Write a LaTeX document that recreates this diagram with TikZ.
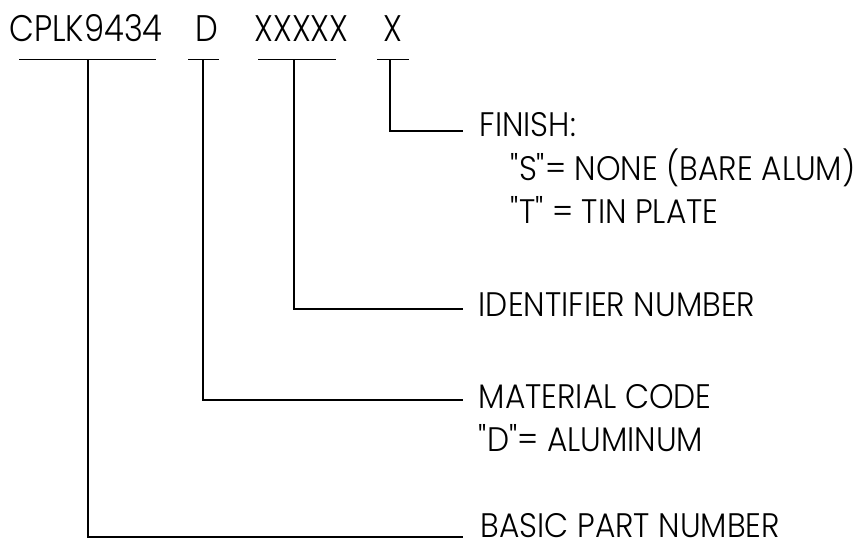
\documentclass[tikz,border=0pt]{standalone}
\usepackage{fontspec}
\setmainfont{Poppins}[UprightFont=* Light]
\newfontfamily\codefont{Poppins}[UprightFont=* Light, FakeStretch=0.87]
\newfontfamily\lblfont{Poppins}[UprightFont=* Light, FakeStretch=0.92]
\usetikzlibrary{positioning}

\begin{document}
\begin{tikzpicture}[x=1pt, y=-1pt, line width=1.5pt,
  code/.style={font=\codefont\fontsize{37}{44}\selectfont, inner sep=0pt, anchor=base},
  lbl/.style={font=\lblfont\fontsize{34}{42}\selectfont, inner sep=0pt, anchor=base west}]

  \useasboundingbox (0,0) rectangle (868,546);

  % --- 1. part number code ---
  \node[code] (cplk) at (86,41)    {CPLK9434};
  \node[code] (mat)  at (206.5,41) {D};
  \node[code] (idn)  at (301.5,41) {XXXXX};
  \node[code] (fin)  at (392.5,41) {X};

  % --- 2. underlines and tick tops ---
  \draw (19,59.5) -- (156,59.5);
  \draw (188,59.5) -- (219,59.5);
  \draw (258,59.5) -- (336,59.5);
  \draw (377,59.5) -- (409,59.5);
  \coordinate (t-cplk) at (88,59.5);
  \coordinate (t-mat)  at (203,59.5);
  \coordinate (t-idn)  at (294,59.5);
  \coordinate (t-fin)  at (390,59.5);

  % --- 3. leader ends ---
  \coordinate (e-fin)  at (463,131);
  \coordinate (e-idn)  at (463,309);
  \coordinate (e-mat)  at (463,400);
  \coordinate (e-cplk) at (463,537);

  % --- 4. leaders ---
  \draw (t-fin)  |- (e-fin);
  \draw (t-idn)  |- (e-idn);
  \draw (t-mat)  |- (e-mat);
  \draw (t-cplk) |- (e-cplk);

  % --- 5. descriptions ---
  \node[lbl] (finish) at (479,136) {FINISH:};
  \node[lbl] (fin-s)  at (510,180) {"S"= NONE (BARE ALUM)};
  \node[lbl] (fin-t)  at (510,223) {"T" = TIN PLATE};
  \node[lbl] (ident)  at (478,316) {IDENTIFIER NUMBER};
  \node[lbl] (matl)   at (478,408) {MATERIAL CODE};
  \node[lbl] (mat-d)  at (478,451) {"D"= ALUMINUM};
  \node[lbl] (basic)  at (480,537) {BASIC PART NUMBER};

\end{tikzpicture}
\end{document}
